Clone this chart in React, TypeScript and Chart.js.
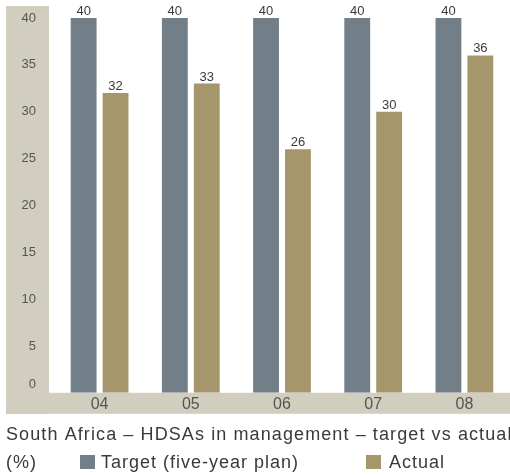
import React, { useEffect, useRef } from "react";
import { Chart, registerables } from "chart.js";

Chart.register(...registerables);

const categories = ["04", "05", "06", "07", "08"];
const targetValues = [40, 40, 40, 40, 40];
const actualValues = [32, 33, 26, 30, 36];
const yMin = 0;
const yMax = 40;
const yStep = 5;
const titleText = "South Africa – HDSAs in management – target vs actual";
const unitText = "(%)";
const seriesLabels = ["Target (five-year plan)", "Actual"];
const seriesColors = ["#727f89", "#a6966b"];
const bandColor = "#d1cebf";
const textColor = "#3a3a3a";
const tickColor = "#555555";
const FONT = "'Liberation Sans', Arial, Helvetica, sans-serif";

export default function App() {
  const ref = useRef<HTMLCanvasElement>(null);

  useEffect(() => {
    document.body.style.margin = "0";
    const canvas = ref.current;
    if (!canvas) return;

    const bands = {
      id: "bands",
      beforeDraw(chart: any) {
        const { ctx, chartArea } = chart;
        const bandBottom = chartArea.bottom + 21;
        ctx.save();
        ctx.fillStyle = bandColor;
        ctx.fillRect(6, 6, chartArea.left - 11, bandBottom - 6);
        ctx.fillRect(6, chartArea.bottom, chart.width - 6, bandBottom - chartArea.bottom);
        ctx.restore();
      },
    };

    const yLabels = {
      id: "yLabels",
      afterDraw(chart: any) {
        const { ctx, chartArea } = chart;
        const ys = chart.scales.y;
        ctx.save();
        ctx.font = `13px ${FONT}`;
        ctx.fillStyle = tickColor;
        ctx.textAlign = "right";
        ctx.textBaseline = "middle";
        ys.ticks.forEach((t: any) => {
          const py = Math.min(ys.getPixelForValue(t.value), chartArea.bottom - 8);
          ctx.fillText(String(t.value), 36, py);
        });
        ctx.restore();
      },
    };

    const valueLabels = {
      id: "valueLabels",
      afterDatasetsDraw(chart: any) {
        const { ctx } = chart;
        ctx.save();
        ctx.font = `13px ${FONT}`;
        ctx.fillStyle = textColor;
        ctx.textAlign = "center";
        ctx.textBaseline = "alphabetic";
        chart.data.datasets.forEach((ds: any, di: number) => {
          const meta = chart.getDatasetMeta(di);
          meta.data.forEach((bar: any, i: number) => {
            ctx.fillText(String(ds.data[i]), bar.x, bar.y - 3);
          });
        });
        ctx.restore();
      },
    };

    const captionLegend = {
      id: "captionLegend",
      afterDraw(chart: any) {
        const { ctx } = chart;
        ctx.save();
        ctx.font = `18px ${FONT}`;
        ctx.fillStyle = textColor;
        ctx.textAlign = "left";
        ctx.textBaseline = "alphabetic";
        (ctx as any).letterSpacing = "1.1px";
        ctx.fillText(titleText, 6, 440);
        (ctx as any).letterSpacing = "1px";
        ctx.fillText(unitText, 6, 468);
        const items = [
          { box: 80, text: 101 },
          { box: 366, text: 389 },
        ];
        chart.data.datasets.forEach((ds: any, i: number) => {
          const it = items[i];
          ctx.fillStyle = ds.backgroundColor;
          ctx.fillRect(it.box, 455, 15, 14);
          ctx.fillStyle = textColor;
          ctx.fillText(ds.label, it.text, 468);
        });
        ctx.restore();
      },
    };

    const chart = new Chart(canvas, {
      type: "bar",
      data: {
        labels: categories,
        datasets: [
          {
            label: seriesLabels[0],
            data: targetValues,
            backgroundColor: seriesColors[0],
            categoryPercentage: 0.7,
            barPercentage: 0.81,
          },
          {
            label: seriesLabels[1],
            data: actualValues,
            backgroundColor: seriesColors[1],
            categoryPercentage: 0.7,
            barPercentage: 0.81,
          },
        ],
      },
      options: {
        responsive: false,
        animation: false,
        devicePixelRatio: 1,
        layout: { padding: { top: 18, bottom: 59, left: 0, right: 0 } },
        plugins: {
          legend: { display: false },
          title: { display: false },
          tooltip: { enabled: false },
        },
        scales: {
          x: {
            grid: { display: false, drawTicks: false },
            border: { display: false },
            ticks: {
              color: tickColor,
              font: { size: 16, family: FONT },
              padding: 2,
            },
          },
          y: {
            min: yMin,
            max: yMax,
            grid: { display: false, drawTicks: false },
            border: { display: false },
            ticks: {
              stepSize: yStep,
              display: false,
            },
            afterFit: (s: any) => {
              s.width = 54;
              s.paddingTop = 0;
              s.paddingBottom = 0;
            },
          },
        },
      },
      plugins: [bands, valueLabels, yLabels, captionLegend],
    });

    return () => chart.destroy();
  }, []);

  return (
    <div style={{ width: 510, height: 475, overflow: "hidden" }}>
      <canvas ref={ref} width={510} height={475} style={{ display: "block" }} />
    </div>
  );
}
